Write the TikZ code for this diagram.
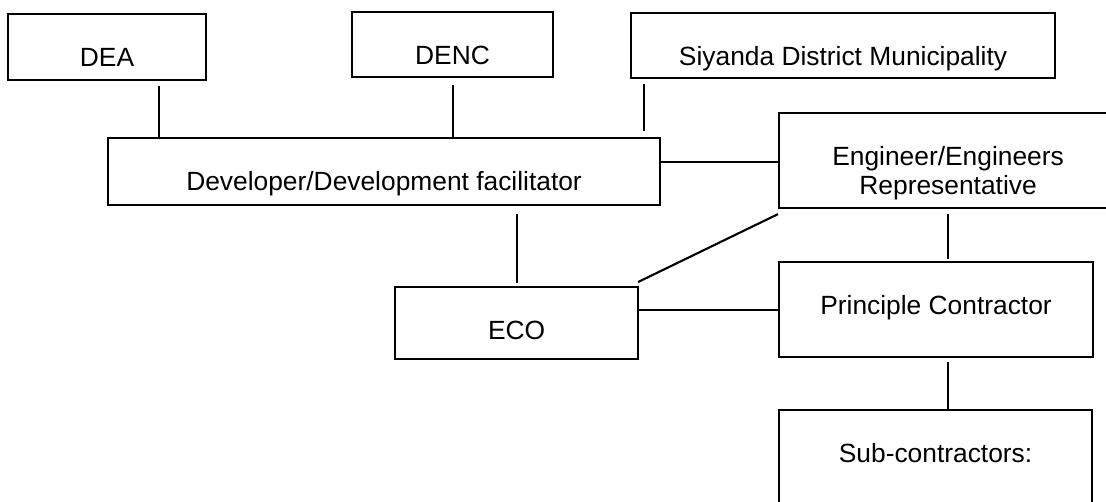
\documentclass[tikz,border=0pt]{standalone}
\usepackage{fontspec}
\setmainfont{Liberation Sans}
\usetikzlibrary{calc}

\begin{document}
\begin{tikzpicture}[x=0.2mm, y=-0.2mm,
    every node/.style={font=\fontsize{15}{16.5}\selectfont},
    orgbox/.style={draw, line width=1.2pt, anchor=north west, inner sep=0pt,
        align=center, text height=10.4mm},
    link/.style={line width=1.2pt}]

% =============================================
% Marco de la figura
% =============================================
\useasboundingbox (0,0) rectangle (1106,501);
\clip (0,0) rectangle (1106,501);

% =============================================
% Fila superior: autoridades
% =============================================
\node[orgbox, minimum width=39.6mm, text depth=2.8mm] (dea) at (7,13) {DEA};
\node[orgbox, minimum width=40.2mm, text depth=2.6mm] (denc) at (351,11) {DENC};
\node[orgbox, minimum width=84.8mm, text depth=2.6mm] (siy) at (630,12) {Siyanda District Municipality};

% =============================================
% Desarrollador, ingeniero y ECO
% =============================================
\node[orgbox, minimum width=110.4mm, text depth=3mm] (dev) at (107,137) {Developer/Development facilitator};
% dos lineas: la base es la ultima linea
\node[orgbox, minimum width=67.6mm, text height=16.2mm, text depth=2.8mm] (eng) at (778,112) {Engineer/Engineers\\Representative};
\node[orgbox, minimum width=48.6mm, text depth=4mm] (eco) at (394,286) {ECO};

% =============================================
% Contratistas
% =============================================
\node[orgbox, minimum width=62.8mm, text depth=8.6mm] (pc) at (778,261) {Principle Contractor};
\node[orgbox, minimum width=62.6mm, text depth=9.6mm] (sub) at (778,409) {Sub-contractors:};

% =============================================
% Conexiones
% =============================================
% autoridades -> desarrollador
\draw[link] ($(dea.south)+(52,5)$) coordinate (deaL) -- (deaL |- dev.north);
\draw[link] ($(denc.south)+(0,7)$) coordinate (dencL) -- (dencL |- dev.north);
\draw[link] ($(siy.south west)+(14,5)$) coordinate (siyL) -- ($(siyL |- dev.north)+(0,-6)$); % no llega a tocar

% desarrollador -> ingeniero / ECO
\draw[link] ($(dev.north east)+(0,25)$) coordinate (devR) -- (devR -| eng.west);
\draw[link] ($(dev.south -| eco.north)+(0,8)$) -- ($(eco.north)+(0,-3)$);

% ECO -> ingeniero / contratista
\draw[link] ($(eco.north east)+(-1,-4)$) -- ($(eng.south west)+(0,5)$);
\draw[link] ($(eco.north east)+(0,24)$) coordinate (ecoR) -- (ecoR -| pc.west);

% cadena vertical de la derecha
\draw[link] ($(eng.south)+(0,5)$) coordinate (engB) -- ($(engB |- pc.north)+(0,-2)$);
\draw[link] ($(pc.south)+(12,4)$) coordinate (pcB) -- (pcB |- sub.north);

\end{tikzpicture}
\end{document}
